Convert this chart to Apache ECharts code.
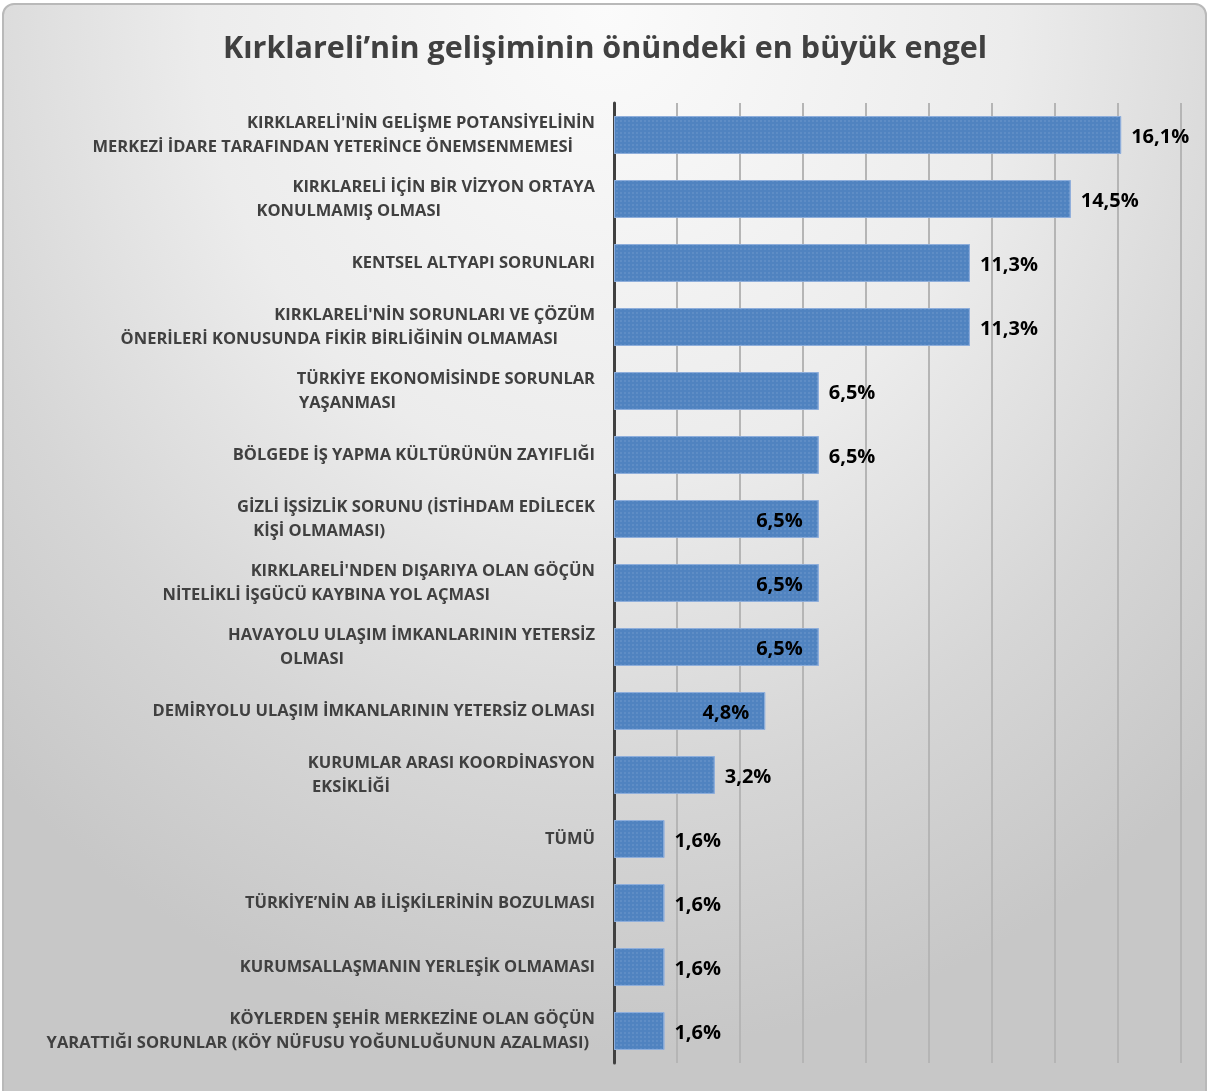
<!DOCTYPE html>
<html>
<head>
<meta charset="utf-8">
<script src="https://cdn.jsdelivr.net/npm/echarts@6/dist/echarts.min.js"></script>
<style>
  html, body { margin:0; padding:0; background:#ffffff; width:1210px; height:1091px; overflow:hidden; }
  #frame { position:absolute; left:2px; top:3px; width:1201px; height:1100px; border:2px solid #b9b9b9; border-radius:12px;
    background: radial-gradient(ellipse 75% 95% at 50% 0%, #fbfbfb 0%, #ececec 45%, #d6d6d6 75%, #c7c7c7 100%); }
  #chart { position:absolute; left:0; top:0; width:1210px; height:1091px; }
</style>
</head>
<body>
<div id="frame"></div>
<div id="chart"></div>
<script>
const titleText = "Kırklareli’nin gelişiminin önündeki en büyük engel";
const categories = [
  "KIRKLARELİ'NİN GELİŞME POTANSİYELİNİN\nMERKEZİ İDARE TARAFINDAN YETERİNCE ÖNEMSENMEMESİ",
  "KIRKLARELİ İÇİN BİR VİZYON ORTAYA\nKONULMAMIŞ OLMASI",
  "KENTSEL ALTYAPI SORUNLARI",
  "KIRKLARELİ'NİN SORUNLARI VE ÇÖZÜM\nÖNERİLERİ KONUSUNDA FİKİR BİRLİĞİNİN OLMAMASI",
  "TÜRKİYE EKONOMİSİNDE SORUNLAR\nYAŞANMASI",
  "BÖLGEDE İŞ YAPMA KÜLTÜRÜNÜN ZAYIFLIĞI",
  "GİZLİ İŞSİZLİK SORUNU (İSTİHDAM EDİLECEK\nKİŞİ OLMAMASI)",
  "KIRKLARELİ'NDEN DIŞARIYA OLAN GÖÇÜN\nNİTELİKLİ İŞGÜCÜ KAYBINA YOL AÇMASI",
  "HAVAYOLU ULAŞIM İMKANLARININ YETERSİZ\nOLMASI",
  "DEMİRYOLU ULAŞIM İMKANLARININ YETERSİZ OLMASI",
  "KURUMLAR ARASI KOORDİNASYON\nEKSİKLİĞİ",
  "TÜMÜ",
  "TÜRKİYE’NİN AB İLİŞKİLERİNİN BOZULMASI",
  "KURUMSALLAŞMANIN YERLEŞİK OLMAMASI",
  "KÖYLERDEN ŞEHİR MERKEZİNE OLAN GÖÇÜN\nYARATTIĞI SORUNLAR (KÖY NÜFUSU YOĞUNLUĞUNUN AZALMASI)"
];
const values = [16.1, 14.5, 11.3, 11.3, 6.5, 6.5, 6.5, 6.5, 6.5, 4.8, 3.2, 1.6, 1.6, 1.6, 1.6];
const labelInside = [false, false, false, false, false, false, true, true, true, true, false, false, false, false, false];
const xTicks = [0, 2, 4, 6, 8, 10, 12, 14, 16, 18];

// style: right indent of the second label line (px)
const secondLineIndent = [22, 154, 0, 37, 199, 0, 210, 105, 251, 0, 205, 0, 0, 0, 6];

const FONT = 'Open Sans';
const LBL = 16.5;
const chart = echarts.init(document.getElementById('chart'), null, { renderer: 'canvas' });

const rich = { a: { fontFamily: FONT, fontWeight: 'bold', fontSize: LBL, color: '#404040', lineHeight: 24 } };
secondLineIndent.forEach((p, i) => {
  rich['b' + i] = { fontFamily: FONT, fontWeight: 'bold', fontSize: LBL, color: '#404040', lineHeight: 24, padding: [0, p, 0, 0] };
});

const fmtPct = v => v.toFixed(1).replace('.', ',') + '%';

chart.setOption({
  backgroundColor: 'transparent',
  animation: false,
  title: {
    text: titleText,
    left: 'center',
    top: 29,
    textStyle: { fontFamily: FONT, fontWeight: 'bold', fontSize: 30.5, color: '#404040' }
  },
  grid: { left: 614, right: 29, top: 103, bottom: 28, containLabel: false },
  xAxis: {
    type: 'value',
    min: xTicks[0],
    max: xTicks[xTicks.length - 1],
    interval: xTicks[1] - xTicks[0],
    axisLabel: { show: false },
    axisLine: { show: false },
    axisTick: { show: false },
    splitLine: { show: true, lineStyle: { color: '#b5b5b5', width: 2 } }
  },
  yAxis: {
    type: 'category',
    data: categories,
    inverse: true,
    axisLine: { show: true, lineStyle: { color: '#404040', width: 3 } },
    axisTick: { show: false },
    axisLabel: {
      margin: 19,
      align: 'right',
      formatter: (val, idx) => {
        const parts = val.split('\n');
        if (parts.length === 1) return '{a|' + parts[0] + '}';
        return '{a|' + parts[0] + '}\n{b' + idx + '|' + parts[1] + '}';
      },
      rich: rich
    }
  },
  series: [{
    type: 'bar',
    barWidth: 38,
    data: values.map((v, i) => ({
      value: v,
      label: {
        show: true,
        position: labelInside[i] ? 'insideRight' : 'right',
        distance: labelInside[i] ? 16 : 10
      }
    })),
    itemStyle: {
      color: '#5083c0',
      borderColor: '#8eaedb',
      borderWidth: 1,
      decal: {
        symbol: 'rect',
        symbolSize: 0.6,
        dashArrayX: [[2, 2]],
        dashArrayY: [2, 2],
        color: 'rgba(190,210,240,0.45)',
        rotation: 0
      }
    },
    label: {
      fontFamily: FONT,
      fontWeight: 'bold',
      fontSize: 20,
      color: '#000000',
      offset: [0, 2],
      formatter: p => fmtPct(p.value)
    }
  }]
});
</script>
</body>
</html>
